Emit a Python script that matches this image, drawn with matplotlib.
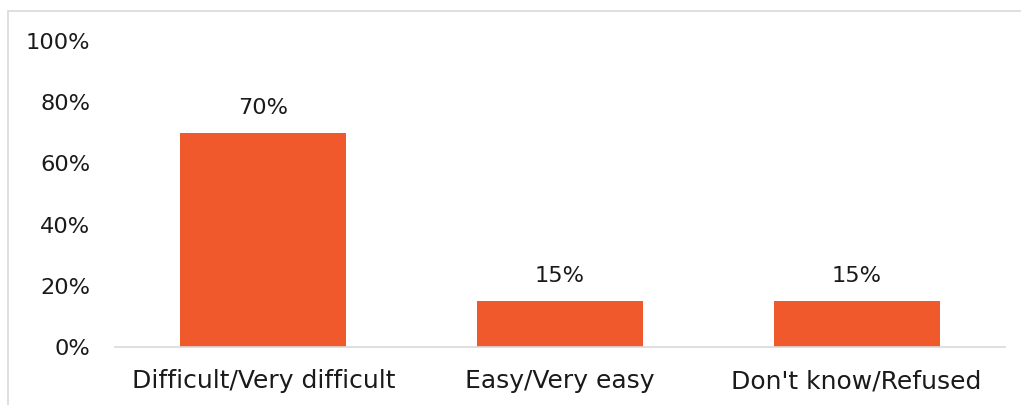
import matplotlib as mpl
mpl.use('Agg')
from matplotlib import pyplot as plt
from matplotlib.patches import Rectangle
from matplotlib.ticker import FuncFormatter

categories = ['Difficult/Very difficult', 'Easy/Very easy', "Don't know/Refused"]
values = [70, 15, 15]
bar_labels = ['70%', '15%', '15%']

plt.rcParams['font.family'] = ['DejaVu Sans']

fig = plt.figure(figsize=(10.21, 4.05), dpi=100)
W, H = 1021, 405
ax = fig.add_axes([115 / W, 1 - 347 / H, (1005 - 115) / W, (347 - 41) / H])

# outer chart border, partly cut off on right and bottom
fig.patches.append(Rectangle((8 / W, -0.1), 1.2, 1 - 11 / H + 0.1,
                             transform=fig.transFigure, fill=False,
                             edgecolor='#d9d9d9', linewidth=1.2))

fs = 16.2
x = range(len(categories))
bars = ax.bar(x, values, width=0.56, color='#F0592B')
for b, lab in zip(bars, bar_labels):
    ax.text(b.get_x() + b.get_width() / 2, b.get_height() + 5, lab,
            ha='center', va='bottom', fontsize=fs, color='#1a1a1a')

ax.set_xlim(-0.5, 2.5)
ax.set_ylim(0, 100)
ax.set_yticks(range(0, 101, 20))
ax.yaxis.set_major_formatter(FuncFormatter(lambda v, p: '%d%%' % v))
ax.set_xticks(list(x))
ax.set_xticklabels(categories)
ax.tick_params(axis='both', length=0, labelsize=fs, colors='#1a1a1a')
ax.tick_params(axis='x', pad=16, labelsize=18)
ax.tick_params(axis='y', pad=18)

for s in ['top', 'right', 'left']:
    ax.spines[s].set_visible(False)
ax.spines['bottom'].set_color('#d9d9d9')
ax.spines['bottom'].set_linewidth(1.2)

plt.savefig('out.png', dpi=100)
